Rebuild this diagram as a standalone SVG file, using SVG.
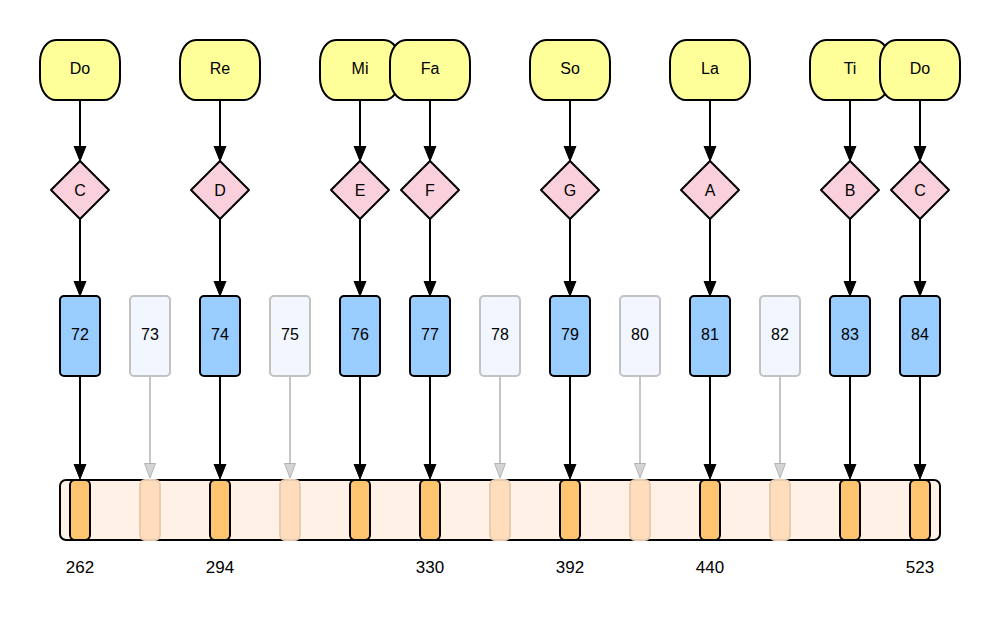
<svg xmlns="http://www.w3.org/2000/svg" width="1000" height="640" viewBox="0 0 1000 640">
<defs>
<style>
.t{font-family:"Liberation Sans",Arial,sans-serif;font-size:16px;fill:#000;text-anchor:middle;dominant-baseline:central}
.f{font-size:17px}
.note{stroke:#000;stroke-width:2;fill:#ffff99}
.dia{stroke:#000;stroke-width:2;fill:#f9d0dc;stroke-linejoin:round}
.on{stroke:#000;stroke-width:2;fill:#99ccff}
.off{stroke:#c2c2c2;stroke-width:2;fill:#f2f7ff}
.bar{stroke:#000;stroke-width:2;fill:#fff1e5}
.kon{stroke:#000;stroke-width:2;fill:#ffc470}
.koff{stroke:#e8cbb0;stroke-width:2;fill:#ffdcbc}
.a{stroke:#000;stroke-width:2;fill:none;marker-end:url(#ah)}
.af{stroke:#c6c6c6;stroke-width:2;fill:none;marker-end:url(#ahf)}
</style>
<marker id="ah" markerUnits="userSpaceOnUse" markerWidth="16" markerHeight="14" viewBox="0 0 16 14" refX="4" refY="7" orient="auto">
<path d="M0,1 L15,7 L0,13 z" fill="#000" stroke="#000" stroke-width="1"/>
</marker>
<marker id="ahf" markerUnits="userSpaceOnUse" markerWidth="16" markerHeight="14" viewBox="0 0 16 14" refX="4" refY="7" orient="auto">
<path d="M0.5,1.5 L15,7 L0.5,12.5 z" fill="#d4d4d4" stroke="#b4b4b4" stroke-width="1"/>
</marker>
</defs>
<rect width="1000" height="640" fill="#fff"/>

<g id="connectors">
<line class="a" x1="80" y1="100" x2="80" y2="150"/>
<line class="a" x1="220" y1="100" x2="220" y2="150"/>
<line class="a" x1="360" y1="100" x2="360" y2="150"/>
<line class="a" x1="430" y1="100" x2="430" y2="150"/>
<line class="a" x1="570" y1="100" x2="570" y2="150"/>
<line class="a" x1="710" y1="100" x2="710" y2="150"/>
<line class="a" x1="850" y1="100" x2="850" y2="150"/>
<line class="a" x1="920" y1="100" x2="920" y2="150"/>

<line class="a" x1="80" y1="219" x2="80" y2="285"/>
<line class="a" x1="220" y1="219" x2="220" y2="285"/>
<line class="a" x1="360" y1="219" x2="360" y2="285"/>
<line class="a" x1="430" y1="219" x2="430" y2="285"/>
<line class="a" x1="570" y1="219" x2="570" y2="285"/>
<line class="a" x1="710" y1="219" x2="710" y2="285"/>
<line class="a" x1="850" y1="219" x2="850" y2="285"/>
<line class="a" x1="920" y1="219" x2="920" y2="285"/>

<line class="a" x1="80" y1="376" x2="80" y2="468"/>
<line class="a" x1="220" y1="376" x2="220" y2="468"/>
<line class="a" x1="360" y1="376" x2="360" y2="468"/>
<line class="a" x1="430" y1="376" x2="430" y2="468"/>
<line class="a" x1="570" y1="376" x2="570" y2="468"/>
<line class="a" x1="710" y1="376" x2="710" y2="468"/>
<line class="a" x1="850" y1="376" x2="850" y2="468"/>
<line class="a" x1="920" y1="376" x2="920" y2="468"/>

<line class="af" x1="150" y1="376" x2="150" y2="467"/>
<line class="af" x1="290" y1="376" x2="290" y2="467"/>
<line class="af" x1="500" y1="376" x2="500" y2="467"/>
<line class="af" x1="640" y1="376" x2="640" y2="467"/>
<line class="af" x1="780" y1="376" x2="780" y2="467"/>
</g>

<g id="solfege">
<g id="n-do1"><rect class="note" x="40" y="40" width="80" height="60" rx="16" ry="22"/><text class="t" x="80" y="68">Do</text></g>
<g id="n-re"><rect class="note" x="180" y="40" width="80" height="60" rx="16" ry="22"/><text class="t" x="220" y="68">Re</text></g>
<g id="n-mi"><rect class="note" x="320" y="40" width="80" height="60" rx="16" ry="22"/><text class="t" x="360" y="68">Mi</text></g>
<g id="n-fa"><rect class="note" x="390" y="40" width="80" height="60" rx="16" ry="22"/><text class="t" x="430" y="68">Fa</text></g>
<g id="n-so"><rect class="note" x="530" y="40" width="80" height="60" rx="16" ry="22"/><text class="t" x="570" y="68">So</text></g>
<g id="n-la"><rect class="note" x="670" y="40" width="80" height="60" rx="16" ry="22"/><text class="t" x="710" y="68">La</text></g>
<g id="n-ti"><rect class="note" x="810" y="40" width="80" height="60" rx="16" ry="22"/><text class="t" x="850" y="68">Ti</text></g>
<g id="n-do2"><rect class="note" x="880" y="40" width="80" height="60" rx="16" ry="22"/><text class="t" x="920" y="68">Do</text></g>
</g>

<g id="letters">
<g id="l-c1"><path class="dia" d="M80,161 L109,190 L80,219 L51,190 Z"/><text class="t" x="80" y="190">C</text></g>
<g id="l-d"><path class="dia" d="M220,161 L249,190 L220,219 L191,190 Z"/><text class="t" x="220" y="190">D</text></g>
<g id="l-e"><path class="dia" d="M360,161 L389,190 L360,219 L331,190 Z"/><text class="t" x="360" y="190">E</text></g>
<g id="l-f"><path class="dia" d="M430,161 L459,190 L430,219 L401,190 Z"/><text class="t" x="430" y="190">F</text></g>
<g id="l-g"><path class="dia" d="M570,161 L599,190 L570,219 L541,190 Z"/><text class="t" x="570" y="190">G</text></g>
<g id="l-a"><path class="dia" d="M710,161 L739,190 L710,219 L681,190 Z"/><text class="t" x="710" y="190">A</text></g>
<g id="l-b"><path class="dia" d="M850,161 L879,190 L850,219 L821,190 Z"/><text class="t" x="850" y="190">B</text></g>
<g id="l-c2"><path class="dia" d="M920,161 L949,190 L920,219 L891,190 Z"/><text class="t" x="920" y="190">C</text></g>
</g>

<g id="midi">
<g id="m72"><rect class="on" x="60" y="296" width="40" height="80" rx="4"/><text class="t" x="80" y="334">72</text></g>
<g id="m73"><rect class="off" x="130" y="296" width="40" height="80" rx="4"/><text class="t" x="150" y="334">73</text></g>
<g id="m74"><rect class="on" x="200" y="296" width="40" height="80" rx="4"/><text class="t" x="220" y="334">74</text></g>
<g id="m75"><rect class="off" x="270" y="296" width="40" height="80" rx="4"/><text class="t" x="290" y="334">75</text></g>
<g id="m76"><rect class="on" x="340" y="296" width="40" height="80" rx="4"/><text class="t" x="360" y="334">76</text></g>
<g id="m77"><rect class="on" x="410" y="296" width="40" height="80" rx="4"/><text class="t" x="430" y="334">77</text></g>
<g id="m78"><rect class="off" x="480" y="296" width="40" height="80" rx="4"/><text class="t" x="500" y="334">78</text></g>
<g id="m79"><rect class="on" x="550" y="296" width="40" height="80" rx="4"/><text class="t" x="570" y="334">79</text></g>
<g id="m80"><rect class="off" x="620" y="296" width="40" height="80" rx="4"/><text class="t" x="640" y="334">80</text></g>
<g id="m81"><rect class="on" x="690" y="296" width="40" height="80" rx="4"/><text class="t" x="710" y="334">81</text></g>
<g id="m82"><rect class="off" x="760" y="296" width="40" height="80" rx="4"/><text class="t" x="780" y="334">82</text></g>
<g id="m83"><rect class="on" x="830" y="296" width="40" height="80" rx="4"/><text class="t" x="850" y="334">83</text></g>
<g id="m84"><rect class="on" x="900" y="296" width="40" height="80" rx="4"/><text class="t" x="920" y="334">84</text></g>
</g>

<g id="keyboard">
<rect class="bar" x="60" y="480" width="880" height="60" rx="6"/>
<rect class="kon" x="70" y="480" width="20" height="60" rx="5"/>
<rect class="koff" x="140" y="480" width="20" height="60" rx="5"/>
<rect class="kon" x="210" y="480" width="20" height="60" rx="5"/>
<rect class="koff" x="280" y="480" width="20" height="60" rx="5"/>
<rect class="kon" x="350" y="480" width="20" height="60" rx="5"/>
<rect class="kon" x="420" y="480" width="20" height="60" rx="5"/>
<rect class="koff" x="490" y="480" width="20" height="60" rx="5"/>
<rect class="kon" x="560" y="480" width="20" height="60" rx="5"/>
<rect class="koff" x="630" y="480" width="20" height="60" rx="5"/>
<rect class="kon" x="700" y="480" width="20" height="60" rx="5"/>
<rect class="koff" x="770" y="480" width="20" height="60" rx="5"/>
<rect class="kon" x="840" y="480" width="20" height="60" rx="5"/>
<rect class="kon" x="910" y="480" width="20" height="60" rx="5"/>
</g>

<g id="freqs">
<text class="t f" x="80" y="567">262</text>
<text class="t f" x="220" y="567">294</text>
<text class="t f" x="430" y="567">330</text>
<text class="t f" x="570" y="567">392</text>
<text class="t f" x="710" y="567">440</text>
<text class="t f" x="920" y="567">523</text>
</g>
</svg>
